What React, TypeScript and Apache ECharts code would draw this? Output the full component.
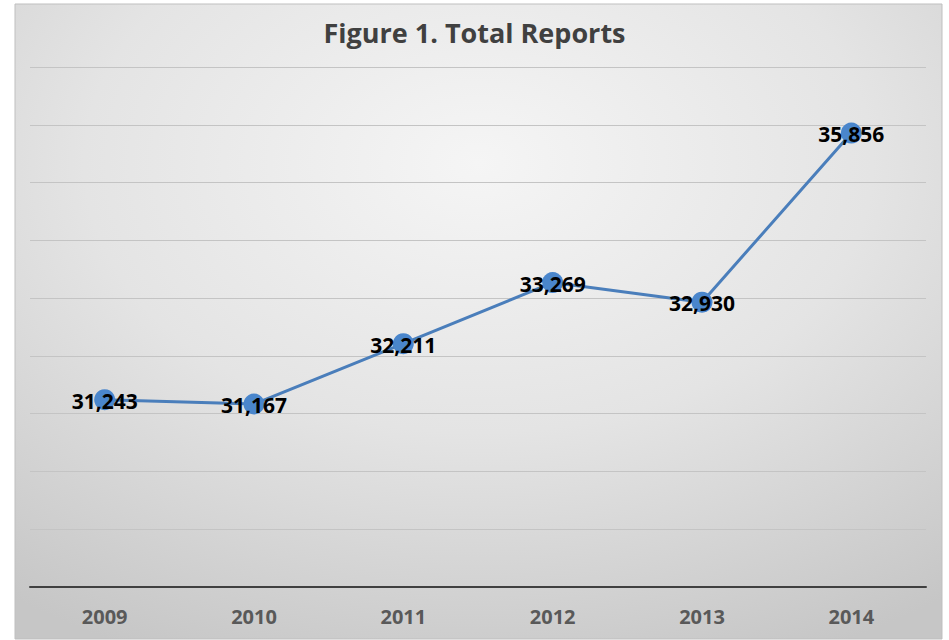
import React, { useEffect, useRef } from "react";
import * as echarts from "echarts";

const years = ["2009", "2010", "2011", "2012", "2013", "2014"];
const totalReports = [31243, 31167, 32211, 33269, 32930, 35856];
const titleText = "Figure 1. Total Reports";

export default function App() {
  const ref = useRef<HTMLDivElement>(null);
  useEffect(() => {
    if (!ref.current) return;
    const chart = echarts.init(ref.current, null, { renderer: "svg" });
    chart.setOption({
      animation: false,
      backgroundColor: "#ffffff",
      graphic: [
        {
          type: "rect",
          z: -10,
          shape: { x: 15, y: 4, width: 927, height: 635 },
          style: {
            fill: new echarts.graphic.RadialGradient(0.5, 0.25, 0.85, [
              { offset: 0, color: "#f5f5f5" },
              { offset: 0.5, color: "#e4e4e4" },
              { offset: 1, color: "#c6c6c6" },
            ]),
            stroke: "#bfbfbf",
            lineWidth: 1,
          },
        },
      ],
      title: {
        text: titleText,
        left: "center",
        top: 14,
        textStyle: {
          fontFamily: "Open Sans",
          fontWeight: "bold",
          fontSize: 27,
          color: "#404040",
        },
      },
      grid: { left: 30, right: 23, top: 67, bottom: 53, containLabel: false },
      xAxis: {
        type: "category",
        data: years,
        boundaryGap: true,
        axisLine: { show: true, lineStyle: { color: "#404040", width: 2 } },
        axisTick: { show: false },
        axisLabel: {
          margin: 19,
          fontFamily: "Open Sans",
          fontWeight: "bold",
          fontSize: 20,
          color: "#595959",
        },
      },
      yAxis: {
        type: "value",
        min: 28000,
        max: 37000,
        interval: 1000,
        axisLine: { show: false },
        axisTick: { show: false },
        axisLabel: { show: false },
        splitLine: { lineStyle: { color: "#c4c4c4", width: 1 } },
      },
      series: [
        {
          type: "line",
          data: totalReports,
          symbol: "circle",
          symbolSize: 21,
          lineStyle: { color: "#4a7ebb", width: 3 },
          itemStyle: { color: "#4a86cc" },
          label: {
            show: true,
            position: "inside",
            offset: [0, 1],
            formatter: (p: any) => p.value.toLocaleString("en-US"),
            fontFamily: "Open Sans",
            fontWeight: "bold",
            fontSize: 21,
            color: "#000000",
          },
        },
      ],
    });
    return () => chart.dispose();
  }, []);
  return (
    <div
      ref={ref}
      style={{ position: "fixed", left: 0, top: 0, width: 949, height: 640 }}
    />
  );
}
